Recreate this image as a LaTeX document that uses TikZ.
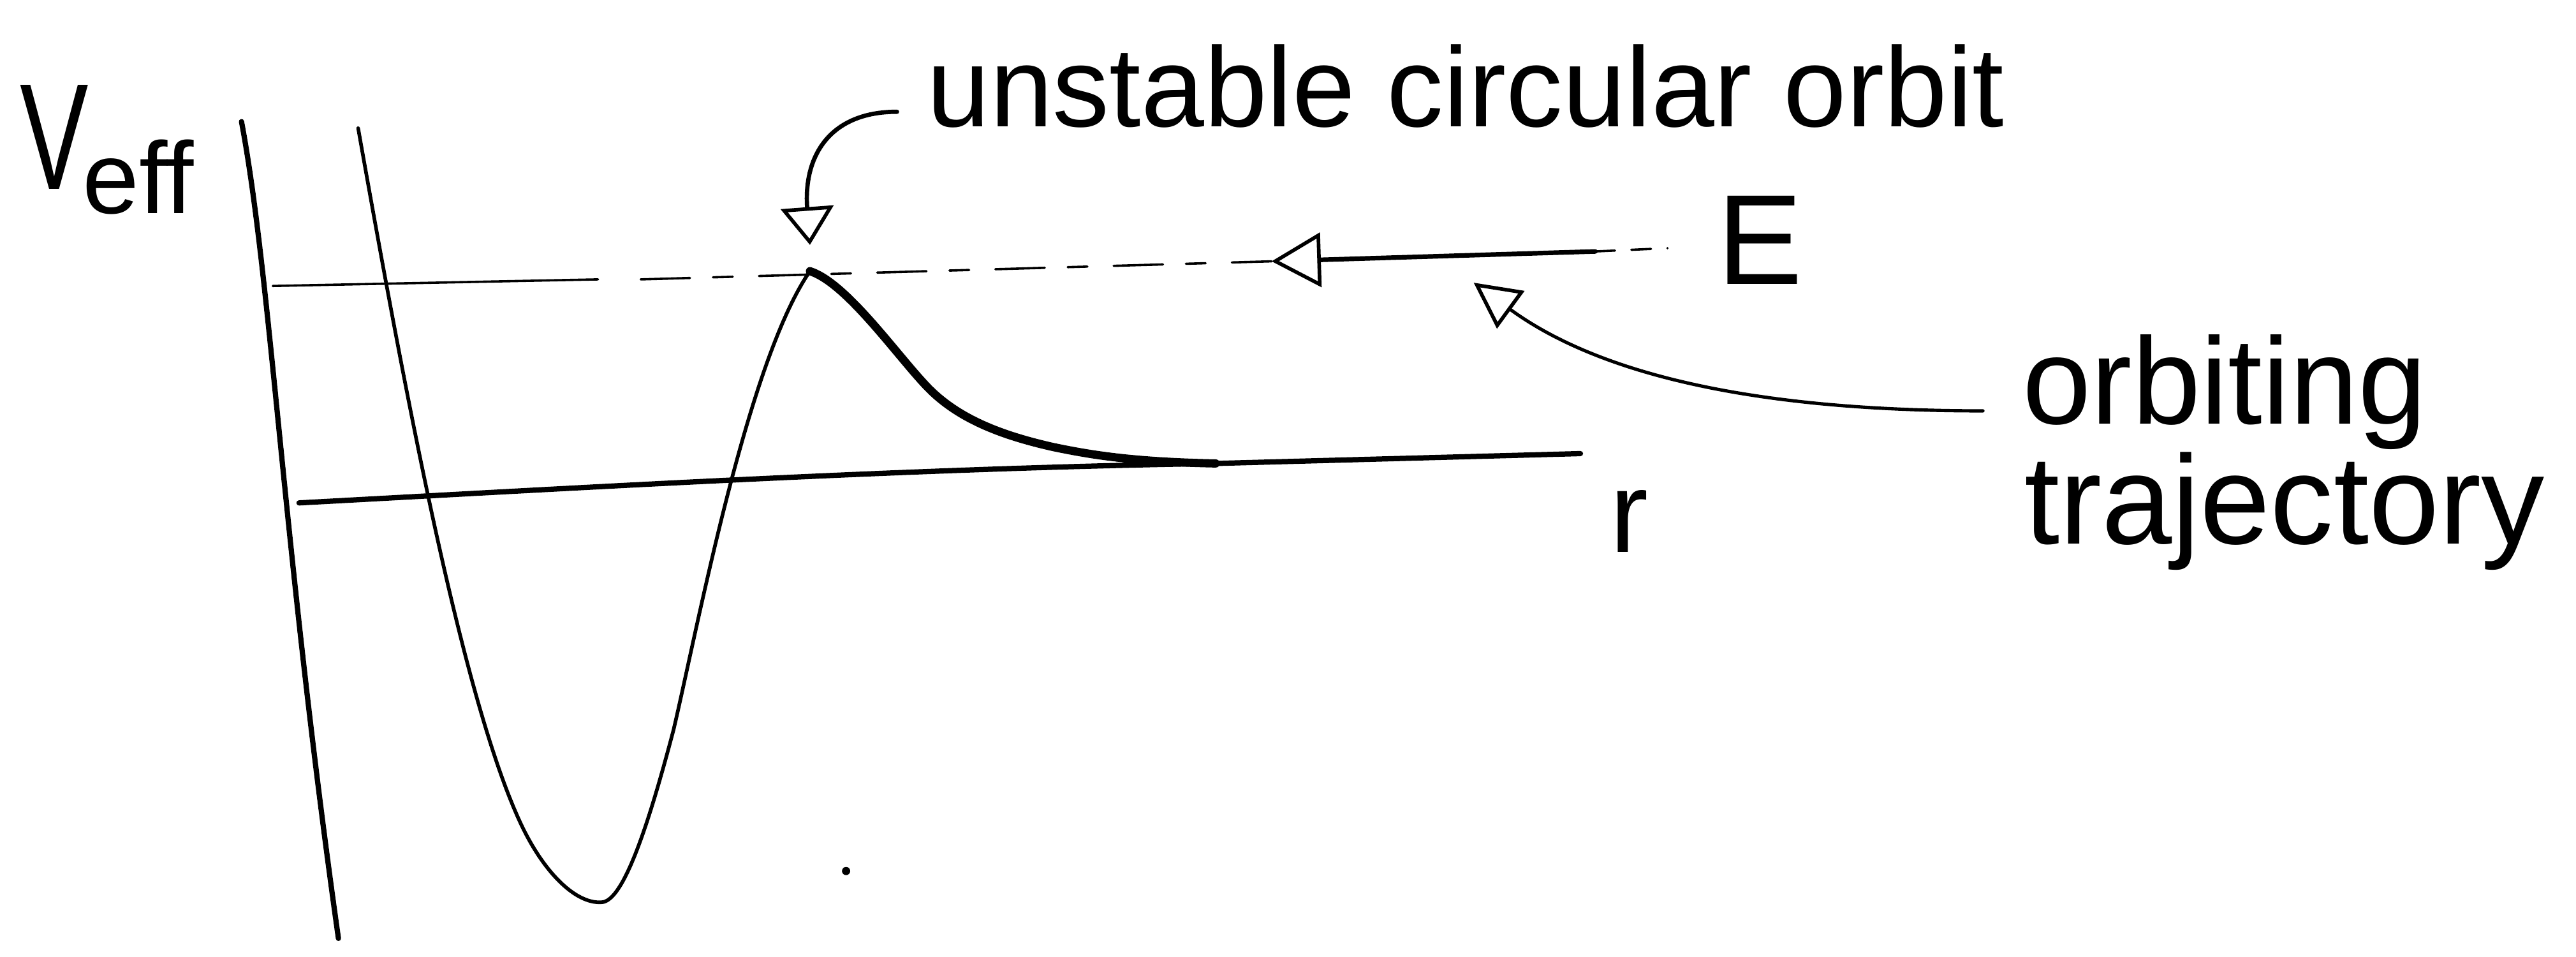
\documentclass[tikz,border=0pt]{standalone}
\usepackage{fontspec}
\setmainfont{Liberation Sans}
\usetikzlibrary{arrows.meta}
\begin{document}
\begin{tikzpicture}[x=1pt,y=-1pt,
  ink/.style={line cap=round,line join=round,draw=black},
  thinink/.style={ink,line width=2.2pt},
  axisink/.style={ink,line width=3.2pt},
  boldink/.style={ink,line width=5pt},
  lbl/.style={inner sep=0pt,anchor=base west},
]
\useasboundingbox (0,0) rectangle (1568,582);

% labels
\node[lbl,font=\fontsize{92}{92}\selectfont] (vlab) at (12,115) {\scalebox{0.68}[1]{V}};
\node[lbl,font=\fontsize{62}{62}\selectfont] (efflab) at (50,130) {eff};
\node[lbl,font=\fontsize{69}{69}\selectfont] (uco) at (564,77) {unstable circular orbit};
\node[lbl,font=\fontsize{78}{78}\selectfont] (elab) at (1045,173) {E};
\node[lbl,font=\fontsize{70}{70}\selectfont] (rlab) at (980,336) {r};
\node[lbl,font=\fontsize{75}{75}\selectfont] (orb) at (1231,258) {orbiting};
\node[lbl,font=\fontsize{77}{77}\selectfont] (traj) at (1232,331) {trajectory};

% coordinates
\coordinate (axtop) at (147,74);
\coordinate (axbot) at (206,571);
\coordinate (rstart) at (182,306);
\coordinate (rend) at (962,276);
\coordinate (estart) at (166,174);
\coordinate (eend) at (1015,151);
\coordinate (eshaft) at (971,153);
\coordinate (etip) at (774,159);
\coordinate (ucostart) at (546,68);
\coordinate (peaktop) at (493,149);
\coordinate (peak) at (493,165);
\coordinate (otstart) at (1207,250);
\coordinate (otend) at (897,172);

% vertical axis
\draw[axisink] (axtop) .. controls (165,170) and (172,330) .. (axbot);

% r axis
\draw[axisink] (rstart) .. controls (350,297) and (550,285) .. (740,282) -- (rend);

% energy level (thin, broken)
\draw[ink,line width=1.4pt] (estart) -- (364,170);
\draw[ink,line width=1.4pt,dash pattern=on 30pt off 14pt on 12pt off 16pt] (390,170) -- (etip);
\draw[ink,line width=1.4pt,dash pattern=on 12pt off 10pt] (eshaft) -- (eend);

% effective potential
\draw[thinink] (218,78) .. controls (245,230) and (280,420) .. (316,499)
  .. controls (330,530) and (350,550) .. (366,549)
  .. controls (380,549) and (396,497) .. (410,444)
  .. controls (425,380) and (455,220) .. (peak);
\draw[boldink] (peak) .. controls (515,172) and (545,215) .. (564,235)
  .. controls (583,255) and (610,265) .. (641,272)
  .. controls (665,277) and (690,281) .. (740,282);

% arrows
\draw[ink,line width=2.8pt,-{Triangle[open,length=30pt,width=33pt,line width=2.2pt]}] (eshaft) -- (etip);
\draw[ink,line width=2.6pt,-{Triangle[open,length=23pt,width=32pt,line width=2.2pt]}] (ucostart) .. controls (505,68) and (489,95) .. (peaktop);
\draw[ink,line width=2pt,-{Triangle[open,length=28pt,width=28pt,line width=2.2pt]}] (otstart) .. controls (1040,250) and (960,218) .. (otend);

% stray dot
\fill (515,530) circle (2.5);
\end{tikzpicture}
\end{document}
